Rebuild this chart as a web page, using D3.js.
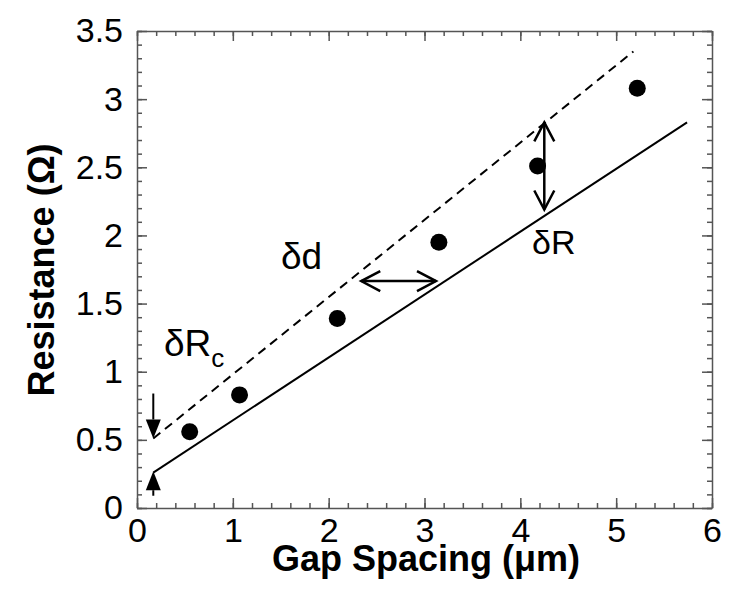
<!DOCTYPE html>
<html>
<head>
<meta charset="utf-8">
<script src="https://d3js.org/d3.v7.min.js"></script>
<style>
  body { margin: 0; background: #fff; }
  svg text { font-family: "Liberation Sans", Arial, sans-serif; fill: #000; }
  .axis path, .axis line { stroke: #555; stroke-width: 1.5; }
  .axis text { font-size: 34px; }
  .title { font-size: 36px; font-weight: bold; }
  .note { font-size: 37px; }
</style>
</head>
<body>
<script>

// measured points
var gapSpacing = [0.55, 1.07, 2.09, 3.15, 4.18, 5.22];
var resistance = [0.56, 0.83, 1.39, 1.95, 2.51, 3.08];

// the two straight lines
var solidX = [0.17, 5.74], solidY = [0.26, 2.83];
var dashX = [0.17, 5.18], dashY = [0.51, 3.35];

// tick values and labels
var xTicks = [0, 1, 2, 3, 4, 5, 6];
var xTickLabels = ["0", "1", "2", "3", "4", "5", "6"];
var yTicks = [0, 0.5, 1, 1.5, 2, 2.5, 3, 3.5];
var yTickLabels = ["0", "0.5", "1", "1.5", "2", "2.5", "3", "3.5"];
var xMinor = d3.range(0, 6.01, 0.2);
var yMinor = d3.range(0, 3.51, 0.1);

// arrows (x0, y0) -> (x1, y1), in data units
var arrowRcDown = [0.17, 0.84, 0.17, 0.51];
var arrowRcUp = [0.17, 0.09, 0.17, 0.27];
var arrowD = [2.34, 1.665, 3.12, 1.665];
var arrowR = [4.25, 2.83, 4.25, 2.19];

var W = 735, H = 595;
var svg = d3.select("body").append("svg")
    .attr("width", W)
    .attr("height", H);

var x = d3.scaleLinear().domain([0, 6]).range([137, 712]);
var y = d3.scaleLinear().domain([0, 3.5]).range([508, 31]);

// minor ticks, all four sides
function minor(axisFn, vals, tr) {
  svg.append("g").attr("class", "axis")
    .attr("transform", tr)
    .call(axisFn.tickValues(vals).tickSize(-5).tickSizeOuter(0).tickFormat(""))
    .select(".domain").remove();
}
minor(d3.axisBottom(x), xMinor, "translate(0," + y(0) + ")");
minor(d3.axisTop(x), xMinor, "translate(0," + y(3.5) + ")");
minor(d3.axisLeft(y), yMinor, "translate(" + x(0) + ",0)");
minor(d3.axisRight(y), yMinor, "translate(" + x(6) + ",0)");

// major ticks + labels
svg.append("g").attr("class", "axis")
  .attr("transform", "translate(0," + y(0) + ")")
  .call(d3.axisBottom(x).tickValues(xTicks).tickSize(-10).tickSizeOuter(0)
    .tickPadding(10).tickFormat(function(d, i) { return xTickLabels[i]; }));

svg.append("g").attr("class", "axis")
  .attr("transform", "translate(0," + y(3.5) + ")")
  .call(d3.axisTop(x).tickValues(xTicks).tickSize(-10).tickSizeOuter(0).tickFormat(""));

svg.append("g").attr("class", "axis")
  .attr("transform", "translate(" + x(0) + ",0)")
  .call(d3.axisLeft(y).tickValues(yTicks).tickSize(-10).tickSizeOuter(0)
    .tickPadding(14).tickFormat(function(d, i) { return yTickLabels[i]; }));

svg.append("g").attr("class", "axis")
  .attr("transform", "translate(" + x(6) + ",0)")
  .call(d3.axisRight(y).tickValues(yTicks).tickSize(-10).tickSizeOuter(0).tickFormat(""));

svg.selectAll(".axis text").attr("fill", "#000");

// fit lines
var line = d3.line().x(function(d) { return x(d[0]); }).y(function(d) { return y(d[1]); });

svg.append("path")
  .attr("d", line(d3.zip(solidX, solidY)))
  .attr("fill", "none").attr("stroke", "#000").attr("stroke-width", 2);

svg.append("path")
  .attr("d", line(d3.zip(dashX, dashY)))
  .attr("fill", "none").attr("stroke", "#000").attr("stroke-width", 2)
  .attr("stroke-dasharray", "9,6");

// data points
svg.append("g").selectAll("circle")
  .data(d3.zip(gapSpacing, resistance))
  .enter().append("circle")
  .attr("cx", function(d) { return x(d[0]); })
  .attr("cy", function(d) { return y(d[1]); })
  .attr("r", 8.5)
  .attr("fill", "#000");

// filled arrow (single head at end)
function filledArrow(a) {
  var x0 = x(a[0]), y0 = y(a[1]), x1 = x(a[2]), y1 = y(a[3]);
  var ang = Math.atan2(y1 - y0, x1 - x0), L = 19, hw = 7.5;
  var bx = x1 - L * Math.cos(ang), by = y1 - L * Math.sin(ang);
  svg.append("line")
    .attr("x1", x0).attr("y1", y0).attr("x2", bx).attr("y2", by)
    .attr("stroke", "#000").attr("stroke-width", 2);
  svg.append("path")
    .attr("d", "M" + x1 + "," + y1 +
      "L" + (bx + hw * Math.sin(ang)) + "," + (by - hw * Math.cos(ang)) +
      "L" + (bx - hw * Math.sin(ang)) + "," + (by + hw * Math.cos(ang)) + "Z")
    .attr("fill", "#000");
}

// open double arrow
function openArrow(a) {
  var x0 = x(a[0]), y0 = y(a[1]), x1 = x(a[2]), y1 = y(a[3]);
  svg.append("line")
    .attr("x1", x0).attr("y1", y0).attr("x2", x1).attr("y2", y1)
    .attr("stroke", "#000").attr("stroke-width", 2.5);
  [[x0, y0, x1, y1], [x1, y1, x0, y0]].forEach(function(p) {
    var ang = Math.atan2(p[1] - p[3], p[0] - p[2]), L = 19, hw = 10;
    var bx = p[0] - L * Math.cos(ang), by = p[1] - L * Math.sin(ang);
    svg.append("path")
      .attr("d", "M" + (bx + hw * Math.sin(ang)) + "," + (by - hw * Math.cos(ang)) +
        "L" + p[0] + "," + p[1] +
        "L" + (bx - hw * Math.sin(ang)) + "," + (by + hw * Math.cos(ang)))
      .attr("fill", "none").attr("stroke", "#000").attr("stroke-width", 2.5);
  });
}

filledArrow(arrowRcDown);
filledArrow(arrowRcUp);
openArrow(arrowD);
openArrow(arrowR);

// annotations
svg.append("text").attr("class", "note").attr("x", 281).attr("y", 269).text("δd");
svg.append("text").attr("class", "note").attr("x", 532).attr("y", 254).style("font-size", "34px").text("δR");
var rc = svg.append("text").attr("class", "note").attr("x", 164).attr("y", 356);
rc.append("tspan").text("δR");
rc.append("tspan").attr("dy", 11).style("font-size", "26px").text("c");

// axis titles
svg.append("text").attr("class", "title")
  .attr("x", 426).attr("y", 571)
  .attr("text-anchor", "middle")
  .text("Gap Spacing (μm)");

svg.append("text").attr("class", "title")
  .attr("transform", "translate(54,270) rotate(-90)")
  .attr("text-anchor", "middle")
  .text("Resistance (Ω)");

</script>
</body>
</html>
